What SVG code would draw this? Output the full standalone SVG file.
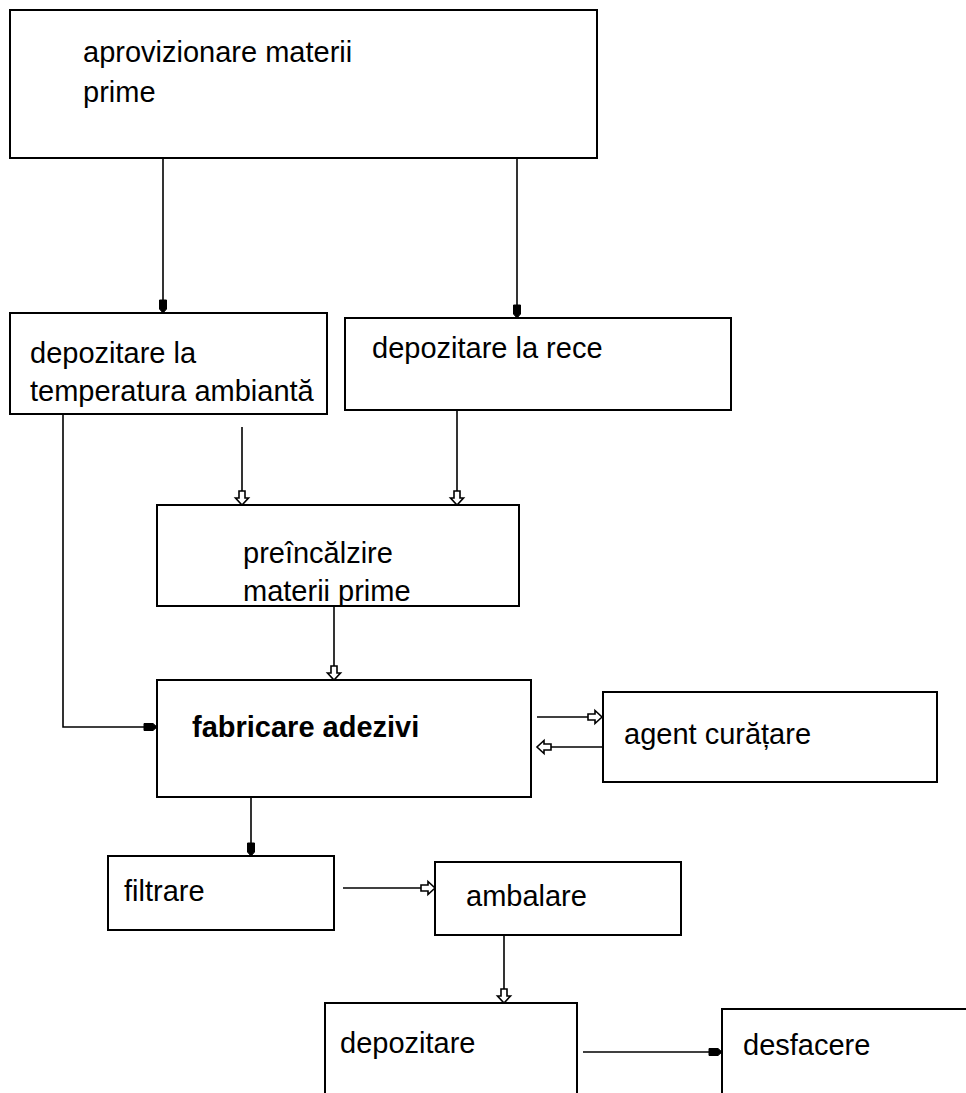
<svg xmlns="http://www.w3.org/2000/svg" width="966" height="1093" viewBox="0 0 966 1093">
<style>
.box{fill:#fff;stroke:#000;stroke-width:2}
.t{font-family:"Liberation Sans",Arial,sans-serif;font-size:29px;fill:#000}
.b{font-weight:bold}
.ln{fill:none;stroke:#000;stroke-width:1.6}
</style>
<defs>
<marker id="open" markerUnits="userSpaceOnUse" markerWidth="16" markerHeight="16" refX="14" refY="0" viewBox="-1 -8 16 16" orient="auto" overflow="visible">
<path d="M0,-3 L7,-3 L7,-6.5 L14,0 L7,6.5 L7,3 L0,3 Z" fill="#fff" stroke="#000" stroke-width="1.6"/>
</marker>
<marker id="solid" markerUnits="userSpaceOnUse" markerWidth="16" markerHeight="16" refX="13" refY="0" viewBox="-1 -8 16 16" orient="auto" overflow="visible">
<path d="M0,-3.5 L9,-3.5 L13,0 L9,3.5 L0,3.5 Z" fill="#000" stroke="#000" stroke-width="1"/>
</marker>
</defs>
<rect width="966" height="1093" fill="#fff"/>
<g id="connectors">
<path class="ln" d="M163,158 V313" marker-end="url(#solid)"/>
<path class="ln" d="M517,158 V318" marker-end="url(#solid)"/>
<path class="ln" d="M63,414 V727 H157" marker-end="url(#solid)"/>
<path class="ln" d="M242,427 V505" marker-end="url(#open)"/>
<path class="ln" d="M457,410 V505" marker-end="url(#open)"/>
<path class="ln" d="M334,606 V680" marker-end="url(#open)"/>
<path class="ln" d="M537,717 H602" marker-end="url(#open)"/>
<path class="ln" d="M603,747 H537" marker-end="url(#open)"/>
<path class="ln" d="M251,797 V856" marker-end="url(#solid)"/>
<path class="ln" d="M343,888 H435" marker-end="url(#open)"/>
<path class="ln" d="M504,935 V1003" marker-end="url(#open)"/>
<path class="ln" d="M583,1052 H722" marker-end="url(#solid)"/>
</g>
<g id="n1"><rect class="box" x="10" y="10" width="587" height="148"/><text class="t" x="83" y="62">aprovizionare materii</text><text class="t" x="83" y="102">prime</text></g>
<g id="n2"><rect class="box" x="10" y="313" width="317" height="101"/><text class="t" x="30" y="363">depozitare la</text><text class="t" x="30" y="401">temperatura ambiantă</text></g>
<g id="n3"><rect class="box" x="345" y="318" width="386" height="92"/><text class="t" x="372" y="358">depozitare la rece</text></g>
<g id="n4"><rect class="box" x="157" y="505" width="362" height="101"/><text class="t" x="243" y="563">preîncălzire</text><text class="t" x="243" y="601">materii prime</text></g>
<g id="n5"><rect class="box" x="157" y="680" width="374" height="117"/><text class="t b" x="192" y="737">fabricare adezivi</text></g>
<g id="n6"><rect class="box" x="603" y="692" width="334" height="90"/><text class="t" x="624" y="744">agent curățare</text></g>
<g id="n7"><rect class="box" x="108" y="856" width="226" height="74"/><text class="t" x="124" y="901">filtrare</text></g>
<g id="n8"><rect class="box" x="435" y="862" width="246" height="73"/><text class="t" x="466" y="906">ambalare</text></g>
<g id="n9"><rect class="box" x="325" y="1003" width="252" height="100"/><text class="t" x="340" y="1053">depozitare</text></g>
<g id="n10"><rect class="box" x="722" y="1009" width="260" height="100"/><text class="t" x="743" y="1055">desfacere</text></g>
</svg>
